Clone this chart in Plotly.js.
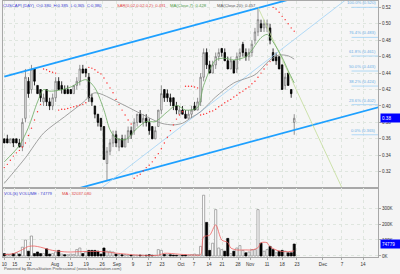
<!DOCTYPE html>
<html><head><meta charset="utf-8">
<script src="https://cdn.plot.ly/plotly-3.0.1.min.js"></script>
<style>html,body{margin:0;padding:0;background:#f4f4f4;}#chart{width:400px;height:274px;}</style>
</head><body><div id="chart"></div>
<script>
// ---- OHLC (daily, index 0 = Jul 10) ----
const opens  = [.360,.360,.355,.360,.360,.355,.350,.385,.430,.420, .445,.425,.420,.405,.420,.405,.400,.410,.430,.425, .420,.420,.420,.415,.425,.430,.445,.445,.435,.410, .400,.390,.385,.375,.330,.345,.355,.365,.350,.360, .350,.360,.370,.370,.380,.390,.380,.385,.380,.375, .360,.375,.395,.420,.415,.410,.410,.400,.390,.395, .390,.385,.390,.400,.395,.405,.435,.465,.450,.440, .450,.460,.470,.465,.455,.445,.455,.445,.460,.475, .465,.460,.465,.480,.490,.500,.495,.495,.495,.465, .460,.460,.450,.425,.440,.420,.380];
const highs  = [.360,.365,.360,.360,.360,.360,.385,.445,.435,.450, .445,.425,.420,.415,.420,.410,.415,.435,.435,.430, .425,.425,.420,.425,.435,.450,.450,.445,.440,.415, .400,.390,.385,.375,.350,.360,.370,.370,.360,.365, .365,.375,.375,.385,.390,.395,.390,.390,.385,.375, .375,.395,.425,.420,.420,.415,.410,.405,.400,.400, .395,.395,.400,.405,.410,.440,.470,.470,.455,.455, .465,.470,.470,.470,.460,.460,.455,.465,.470,.478, .470,.470,.480,.495,.520,.505,.505,.505,.500,.470, .465,.460,.450,.440,.440,.420,.390];
const lows   = [.355,.355,.355,.350,.355,.350,.345,.380,.410,.415, .425,.415,.405,.400,.400,.395,.395,.405,.420,.415, .415,.415,.415,.415,.420,.425,.440,.435,.405,.400, .385,.375,.370,.335,.310,.340,.350,.350,.345,.350, .350,.355,.360,.365,.375,.380,.375,.375,.365,.360, .360,.375,.390,.405,.405,.400,.395,.390,.390,.390, .385,.385,.385,.395,.395,.400,.430,.445,.440,.440, .445,.455,.460,.455,.445,.445,.440,.440,.455,.460, .455,.455,.460,.475,.485,.490,.490,.490,.475,.455, .450,.445,.420,.420,.425,.410,.365];
const closes = [.355,.355,.360,.355,.355,.350,.380,.435,.415,.445, .430,.415,.410,.410,.405,.400,.410,.430,.420,.420, .415,.415,.415,.425,.430,.445,.440,.440,.410,.405, .390,.380,.375,.335,.345,.355,.365,.355,.360,.350, .360,.370,.365,.380,.390,.380,.385,.380,.370,.360, .370,.395,.415,.410,.410,.405,.400,.395,.395,.390, .385,.390,.395,.395,.405,.435,.465,.450,.440,.450, .460,.465,.465,.455,.445,.455,.440,.460,.465,.465, .460,.465,.475,.490,.505,.495,.500,.500,.480,.455, .455,.445,.420,.435,.425,.415,.385];
const volumes = [15000,12000,10000,15000,20000,12000,55000,100000,30000,125000,
  15000,25000,15000,15000,45000,12000,15000,25000,35000,12000,
  8000,8000,12000,10000,40000,50000,15000,25000,35000,35000,
  35000,30000,12000,50000,30000,30000,25000,12000,10000,8000,
  8000,6000,6000,5000,5000,6000,5000,5000,8000,5000,
  5000,40000,35000,10000,8000,8000,6000,5000,5000,5000,
  6000,5000,8000,12000,8000,60000,380000,210000,35000,80000,
  290000,50000,40000,30000,110000,15000,30000,50000,65000,35000,
  20000,25000,40000,40000,290000,80000,30000,40000,60000,40000,
  20000,30000,35000,30000,20000,20000,74779];
// Parabolic SAR (one dot per day)
const sar = [.325,.329,.334,.339,.343,.346,.350,.355,.364,.373,.383,.393,.402,
  .445,.444,.442,.441,.440,
  .395,.396,.396,.397,.398,.399,.400,.401,.402,.404,
  .447,.446,.444,.441,.439,.434,.428,.422,.416,.408,.402,.395,.389,.383,.378,
  .312,.315,.317,.321,.325,.328,.332,.337,.342,.348,.355,.362,.370,.377,.384,.389,.393,
  .424,.424,.424,.423,.422,
  .389,.390,.391,.393,.394,.396,.399,.401,.404,.406,.408,.411,.413,.416,.418,.421,.423,.427,.430,.435,.440,.445,.450,.454,
  .520,.518,.514,.509,.505,.500,.495,.491];
// moving averages
const ma7Day = [0,5,8,11,13,15,18,22,27,30,33,35,37,40,44,47,50,54,57,60,64,66,70,73,76,80,82,85,87,89,92,94,96];
const ma7Val = [.332,.352,.374,.405,.420,.418,.419,.423,.432,.422,.395,.371,.361,.359,.373,.381,.381,.393,.401,.395,.398,.425,.456,.458,.456,.460,.468,.483,.487,.478,.459,.443,.428];
const ma20Day = [0,7,13,20,26,30,38,45,52,56,59,62,65,70,76,83,88,91,94,96];
const ma20Val = [.306,.337,.367,.387,.404,.416,.404,.391,.379,.377,.379,.386,.393,.411,.428,.438,.456,.462,.461,.457];
const volMaDay = [0,3,6,8,10,12,16,21,26,33,37,44,51,53,58,63,65,66,68,70,72,74,75,77,80,82,84,85,87,88,91,94,96];
const volMaVal = [8000,15000,40000,60000,62000,55000,35000,25000,28000,27000,18000,6000,5000,17000,11000,6000,8000,120000,130000,195000,100000,85000,50000,38000,38000,38000,52000,83000,83000,58000,31000,27000,32037];
// drawn trend lines [day, price]
const upperTrendDay = [0,100], upperTrendPrice = [.4357,.5351];
const lowerTrendDay = [20,124], lowerTrendPrice = [.2953,.3985];
const thinTrendDay = [30,115], thinTrendPrice = [.2942,.5346];
const fallTrendDay = [84,113], fallTrendPrice = [.520,.291];
// Fibonacci retracement
const fibHigh = 0.520, fibLow = 0.365;
const fibRatios = [1,0.764,0.618,0.5,0.382,0.236,0];
const fibDay = [115,124];
// axis ticks
const tickPos = [0,3.5,8.2,16.8,21.8,27.1,32.4,37.3,42.6,47.9,52.2,58.5,62.8,67.8,72.1,77.4,81.4,87,92,96.9,105.5,111.8,118.8];
const tickLabels = ['10','15','22','Aug','13','19','26','Sep','9','17','23','Oct','7','14','21','28','Nov','11','18','23','Dec','7','14'];
const priceTicks = [0.32,0.34,0.36,0.38,0.40,0.42,0.44,0.46,0.48,0.50,0.52];
const volTicks = [0,100000,200000,300000];
const volTickLabels = ['0K','100K','200K','300K'];

const days = closes.map((_, i) => i);
const volFill = closes.map((c, i) => c >= (i ? closes[i-1] : opens[i]) ? '#ffffff' : '#000000');
const volLine = closes.map((c, i) => c >= (i ? closes[i-1] : opens[i]) ? '#8a8a8a' : '#000000');

const fibX = [], fibY = [];
const fibLevels = fibRatios.map(r => fibLow + r*(fibHigh - fibLow));
fibLevels.forEach(l => { fibX.push(fibDay[0], fibDay[1], null); fibY.push(l, l, null); });

const F = 'Liberation Sans, Arial, sans-serif';
const FS = 4.6;
const TS = 4.2;
const traces = [
  {type:'scatter', mode:'lines', x:upperTrendDay, y:upperTrendPrice, line:{color:'#1ea0ff', width:1.8}, xaxis:'x', yaxis:'y', hoverinfo:'skip'},
  {type:'scatter', mode:'lines', x:lowerTrendDay, y:lowerTrendPrice, line:{color:'#1ea0ff', width:1.8}, xaxis:'x', yaxis:'y', hoverinfo:'skip'},
  {type:'scatter', mode:'lines', x:thinTrendDay, y:thinTrendPrice, line:{color:'#9fd2f6', width:0.8}, xaxis:'x', yaxis:'y', hoverinfo:'skip'},
  {type:'scatter', mode:'lines', x:fallTrendDay, y:fallTrendPrice, line:{color:'#c2dc98', width:0.8}, xaxis:'x', yaxis:'y', hoverinfo:'skip'},
  {type:'scatter', mode:'lines', x:fibX, y:fibY, line:{color:'#9fd2f6', width:0.8}, xaxis:'x', yaxis:'y', hoverinfo:'skip'},
  {type:'scatter', mode:'lines', x:ma20Day, y:ma20Val, line:{color:'#8c8c8c', width:0.8, shape:'spline', smoothing:0.8}, xaxis:'x', yaxis:'y'},
  {type:'scatter', mode:'lines', x:ma7Day, y:ma7Val, line:{color:'#6aa860', width:0.8, shape:'spline', smoothing:0.8}, xaxis:'x', yaxis:'y'},
  {type:'scatter', mode:'markers', x:days, y:sar, marker:{color:'#ff2a2a', size:1.4}, xaxis:'x', yaxis:'y'},
  {type:'candlestick', x:days, open:opens, high:highs, low:lows, close:closes, xaxis:'x', yaxis:'y', whiskerwidth:0,
    increasing:{line:{color:'#7a7a7a', width:0.8}, fillcolor:'#ffffff'},
    decreasing:{line:{color:'#000000', width:0.8}, fillcolor:'#000000'}},
  {type:'bar', x:days, y:volumes, marker:{color:volFill, line:{color:volLine, width:0.7}}, xaxis:'x2', yaxis:'y2'},
  {type:'scatter', mode:'lines', x:volMaDay, y:volMaVal, line:{color:'#f06060', width:0.8, shape:'spline', smoothing:0.8}, xaxis:'x2', yaxis:'y2'}
];

const xr = [-0.43, 123.74];
const mainBottom = 0.2695;
const gridStyle = {showgrid:true, gridcolor:'#dfe6df', griddash:'dot', gridwidth:1};
const layout = {
  width:400, height:274,
  margin:{l:3, r:22, t:1, b:17, pad:0},
  paper_bgcolor:'#f4f4f4', plot_bgcolor:'#f6f6f6',
  showlegend:false, bargap:0.3,
  font:{family:F, size:FS, color:'#333'},
  xaxis:Object.assign({domain:[0,1], anchor:'y', range:xr, tickvals:tickPos, showticklabels:false, ticks:'',
    showline:true, mirror:true, linecolor:'#a8a8a8', linewidth:1, zeroline:false, rangeslider:{visible:false}}, gridStyle),
  yaxis:Object.assign({domain:[mainBottom,1], anchor:'x', side:'right', range:[0.3002,0.5277], tickvals:priceTicks, tickformat:'.2f',
    ticks:'outside', ticklen:2, tickcolor:'#a8a8a8', tickfont:{family:F, size:FS, color:'#333'},
    showline:true, mirror:true, linecolor:'#a8a8a8', linewidth:1, zeroline:false}, gridStyle),
  xaxis2:Object.assign({domain:[0,1], anchor:'y2', range:xr, tickvals:tickPos, ticktext:tickLabels,
    ticks:'outside', ticklen:2, tickcolor:'#a8a8a8', tickfont:{family:F, size:FS, color:'#333'},
    showline:true, mirror:true, linecolor:'#a8a8a8', linewidth:1, zeroline:false}, gridStyle),
  yaxis2:Object.assign({domain:[0,mainBottom], anchor:'x2', side:'right', range:[-6250,425000], tickvals:volTicks, ticktext:volTickLabels,
    ticks:'outside', ticklen:2, tickcolor:'#a8a8a8', tickfont:{family:F, size:FS, color:'#333'},
    showline:true, mirror:true, linecolor:'#a8a8a8', linewidth:1, zeroline:false}, gridStyle),
  annotations:[]
};
const A = layout.annotations;
const px = p => (p - 3) / 375;
const txt = (text, x, y, color, extra) => A.push(Object.assign({text, x, y, xref:'paper', yref:'paper', xanchor:'left', yanchor:'top',
  showarrow:false, font:{family:F, size:TS, color}}, extra||{}));
txt('CUSCAPI (DAY)  O:0.380  H:0.385  L:0.365  C:0.380', 0, 1, '#3a3ad0', {xshift:-2});
txt('SAR(0.02,0.02,0.2): 0.491', px(115), 1, '#e04848');
txt('MA(Close,7): 0.428', px(168), 1, '#4a9a44');
txt('MA(Close,20): 0.457', px(215), 1, '#555');
txt('VOL(S) VOLUME : 74779', 0, mainBottom, '#3a3ad0', {xshift:-1, yshift:-1});
txt('MA : 32037.080', px(60), mainBottom, '#e04848', {yshift:-1});
txt('Powered by BursaStation Professional (www.bursastation.com)', 0, -0.043, '#555', {xshift:-1, yanchor:'middle'});
fibRatios.forEach((r, k) => A.push({text:(r*100).toFixed(1)+'% ('+fibLevels[k].toFixed(3)+')', x:123.6, y:fibLevels[k], xref:'x', yref:'y',
  xanchor:'right', yanchor:'bottom', showarrow:false, font:{family:F, size:TS, color:'#6aaee6'}}));
A.push({text:'0.38', x:px(380), y:closes[closes.length-1], xref:'paper', yref:'y', xanchor:'left', yanchor:'middle', showarrow:false,
  bgcolor:'#0000ff', width:17, height:6, align:'left', font:{family:F, size:FS, color:'#ffffff'}});
A.push({text:String(volumes[volumes.length-1]), x:px(380), y:volumes[volumes.length-1], xref:'paper', yref:'y2', xanchor:'left', yanchor:'middle', showarrow:false,
  bgcolor:'#0000ff', width:17, height:6, align:'left', font:{family:F, size:FS, color:'#ffffff'}});

Plotly.newPlot('chart', traces, layout, {staticPlot:true, displayModeBar:false});
</script></body></html>
